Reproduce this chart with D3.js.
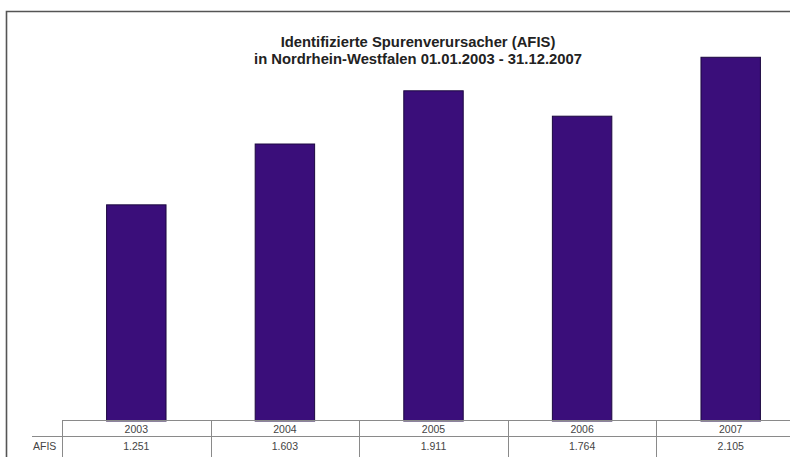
<!DOCTYPE html>
<html>
<head>
<meta charset="utf-8">
<script src="https://cdn.jsdelivr.net/npm/d3@7"></script>
<style>
  html, body { margin: 0; padding: 0; background: #fff; overflow: hidden; }
  svg { display: block; }
</style>
</head>
<body>
<svg id="chart" width="790" height="457"></svg>
<script>
// Identified trace originators (AFIS), North Rhine-Westphalia, per year
const years = ["2003", "2004", "2005", "2006", "2007"];
const afis = [1251, 1603, 1911, 1764, 2105];
const valueLabels = ["1.251", "1.603", "1.911", "1.764", "2.105"];
const seriesName = "AFIS";
const titleLines = [
  "Identifizierte Spurenverursacher (AFIS)",
  "in Nordrhein-Westfalen 01.01.2003 - 31.12.2007"
];

const svg = d3.select("#chart");
const font = "'Liberation Sans', Arial, sans-serif";

// Outer frame (runs off the right and bottom edge)
svg.append("path")
  .attr("d", "M6.5,460 L6.5,11.5 L800,11.5")
  .attr("fill", "none")
  .attr("stroke", "#555")
  .attr("stroke-width", 1.6);

// Scales
const x = d3.scaleBand().domain(years).range([62, 805]).paddingInner(0.6).paddingOuter(0.3);
const cellX = d3.scaleBand().domain(years).range([62, 805]);
const y = d3.scaleLinear().domain([0, 2400]).range([421, 6.3]);

// Title
svg.append("g").selectAll("text").data(titleLines).join("text")
  .attr("x", 418)
  .attr("y", (d, i) => 47 + i * 16.5)
  .attr("text-anchor", "middle")
  .attr("font-family", font)
  .attr("font-weight", "bold")
  .attr("font-size", 14.8)
  .attr("fill", "#222")
  .text(d => d);

// Bars
svg.append("g").selectAll("rect").data(afis).join("rect")
  .attr("x", (d, i) => x(years[i]))
  .attr("y", d => y(d))
  .attr("width", x.bandwidth())
  .attr("height", d => y(0) - y(d))
  .attr("fill", "#3a0e7a")
  .attr("stroke", "#1c0840")
  .attr("stroke-width", 1);

// Data table under the bars
const tbl = svg.append("g").attr("stroke", "#8a8a8a").attr("stroke-width", 1);
tbl.append("line").attr("x1", 62).attr("x2", 805).attr("y1", 420.5).attr("y2", 420.5);
tbl.append("line").attr("x1", 32).attr("x2", 805).attr("y1", 436.5).attr("y2", 436.5);
tbl.selectAll("line.v").data([years[0]].concat(years)).join("line")
  .attr("class", "v")
  .attr("x1", (d, i) => i === 0 ? 62.5 : Math.round(cellX(d) + cellX.bandwidth()) + 0.5)
  .attr("x2", (d, i) => i === 0 ? 62.5 : Math.round(cellX(d) + cellX.bandwidth()) + 0.5)
  .attr("y1", 420)
  .attr("y2", 460);

const cellFont = { family: font, size: 10.5, fill: "#444" };
svg.append("g").selectAll("text").data(years).join("text")
  .attr("x", d => cellX(d) + cellX.bandwidth() / 2)
  .attr("y", 432.5)
  .attr("text-anchor", "middle")
  .attr("font-family", cellFont.family)
  .attr("font-size", cellFont.size)
  .attr("fill", cellFont.fill)
  .text(d => d);

svg.append("g").selectAll("text").data(valueLabels).join("text")
  .attr("x", (d, i) => cellX(years[i]) + cellX.bandwidth() / 2)
  .attr("y", 450)
  .attr("text-anchor", "middle")
  .attr("font-family", cellFont.family)
  .attr("font-size", cellFont.size)
  .attr("fill", cellFont.fill)
  .text(d => d);

svg.append("text")
  .attr("x", 33)
  .attr("y", 450)
  .attr("font-family", cellFont.family)
  .attr("font-size", cellFont.size)
  .attr("fill", cellFont.fill)
  .text(seriesName);
</script>
</body>
</html>
